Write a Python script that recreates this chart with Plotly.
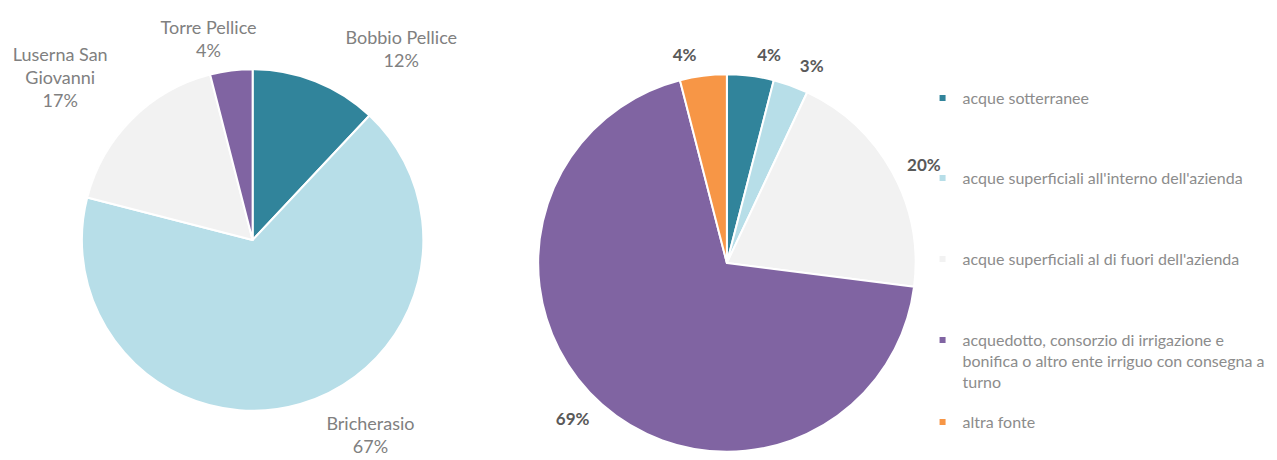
import plotly.graph_objects as go

# ---- data ----
comuni = ["Bobbio Pellice", "Bricherasio", "Luserna San<br>Giovanni", "Torre Pellice"]
comuni_val = [12, 67, 17, 4]

fonti = [
    "acque sotterranee",
    "acque superficiali all'interno dell'azienda",
    "acque superficiali al di fuori dell'azienda",
    "acquedotto, consorzio di irrigazione e<br>bonifica o altro ente irriguo con consegna a<br>turno",
    "altra fonte",
]
fonti_val = [4, 3, 20, 69, 4]

# ---- styles ----
col_left = ["#31849B", "#B7DEE8", "#F2F2F2", "#8064A2"]
col_right = ["#31849B", "#B7DEE8", "#F2F2F2", "#8064A2", "#F79646"]
W, H = 1277, 460
OFF = 8  # page body margin of the html page
FONT = "Lato, 'Open Sans', sans-serif"
CLEAR = "rgba(0,0,0,0)"


def dom(cx, cy, r):
    return dict(x=[(cx - r - OFF) / W, (cx + r - OFF) / W],
                y=[1 - (cy + r - OFF) / H, 1 - (cy - r - OFF) / H])


L_C, L_R, L_LAB = (251, 240), 171, 181
R_C, R_R, R_LAB = (726, 263), 189, 200

fig = go.Figure()

left_font = dict(family=FONT, size=18, color="#808080")
right_font = dict(family=FONT, size=17, color="#595959", weight="bold")

# label carriers: transparent rings, slightly larger than the pies, so the
# labels sit further out (each with a small nudge of its centre)
left_carriers = [
    (["outside", "none", "none", "none"], (15, -4)),
    (["none", "outside", "none", "none"], (12, 0)),
    (["none", "none", "outside", "none"], (0, -18)),
    (["none", "none", "none", "outside"], (38, 0)),
]
for pos, (dx, dy) in left_carriers:
    fig.add_trace(go.Pie(
        labels=comuni, values=comuni_val, sort=False, direction="clockwise", rotation=0,
        marker=dict(colors=[CLEAR] * len(comuni), line=dict(width=0)),
        texttemplate="%{label}<br>%{percent:.0%}", textposition=pos,
        outsidetextfont=left_font, domain=dom(L_C[0] + dx, L_C[1] + dy, L_LAB),
        showlegend=False, hoverinfo="none",
    ))
right_carriers = [
    ["outside", "none", "outside", "outside", "outside"],
    ["none", "outside", "none", "none", "none"],
]
for pos in right_carriers:
    fig.add_trace(go.Pie(
        labels=fonti, values=fonti_val, sort=False, direction="clockwise", rotation=0,
        marker=dict(colors=[CLEAR] * len(fonti), line=dict(width=0)),
        texttemplate="%{percent:.0%}", textposition=pos,
        outsidetextfont=right_font, domain=dom(*R_C, R_LAB),
        showlegend=False, hoverinfo="none",
    ))

# visible pies
fig.add_trace(go.Pie(
    labels=comuni, values=comuni_val, sort=False, direction="clockwise", rotation=0,
    marker=dict(colors=col_left, line=dict(color="white", width=2)),
    textinfo="none", domain=dom(*L_C, L_R),
    showlegend=False, hoverinfo="label+percent",
))
fig.add_trace(go.Pie(
    labels=fonti, values=fonti_val, sort=False, direction="clockwise", rotation=0,
    marker=dict(colors=col_right, line=dict(color="white", width=2)),
    textinfo="none", domain=dom(*R_C, R_R),
    showlegend=False, hoverinfo="label+percent",
))

# legend entries (one legend per entry, to reproduce the spacing)
leg_centers = [98, 178, 259, 340, 422]
layout_legends = {}
for i, (name, c) in enumerate(zip(fonti, col_right)):
    key = "legend" if i == 0 else f"legend{i+1}"
    fig.add_trace(go.Scatter(
        x=[None], y=[None], mode="markers", name=name,
        marker=dict(symbol="square", size=6, color=c),
        legend=key, showlegend=True, hoverinfo="skip",
    ))
    layout_legends[key] = dict(
        x=(962 - 40 - OFF) / W, xanchor="left",
        y=1 - (leg_centers[i] - 17 - OFF) / H, yanchor="top",
        font=dict(family=FONT, size=16, color="#8C8C8C"),
        bgcolor=CLEAR, itemwidth=30, valign="top",
    )

fig.update_layout(
    width=W, height=H,
    margin=dict(l=0, r=0, t=0, b=0),
    paper_bgcolor="white", plot_bgcolor="white",
    xaxis=dict(visible=False), yaxis=dict(visible=False),
    **layout_legends,
)

fig.write_html("out.html")
